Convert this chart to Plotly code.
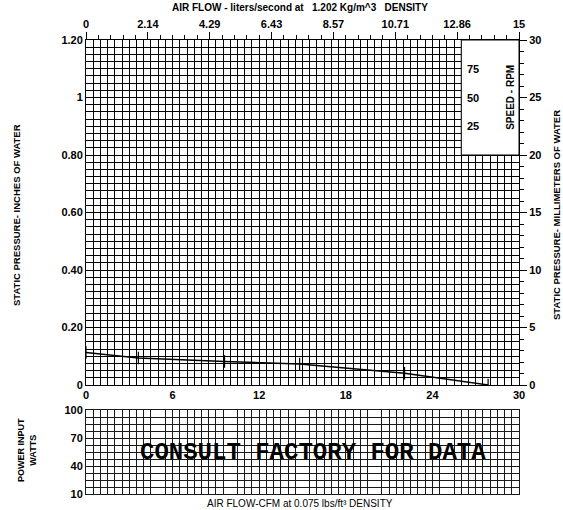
import plotly.graph_objects as go

# ---- data ----
cfm = [0, 3.63, 9.6, 14.8, 22.07, 27.86]
static_in = [0.113, 0.094, 0.082, 0.073, 0.041, 0.0]

x_ticks_cfm = [0, 6, 12, 18, 24, 30]
y_ticks_in = [0, 0.2, 0.4, 0.6, 0.8, 1.0, 1.2]
y_ticktext_in = ["0", "0.20", "0.40", "0.60", "0.80", "1", "1.20"]
top_ticks_ls = [0, 15/7, 30/7, 45/7, 60/7, 75/7, 90/7, 15]
top_ticktext_ls = ["0", "2.14", "4.29", "6.43", "8.57", "10.71", "12.86", "15"]
right_ticks_mm = [0, 5, 10, 15, 20, 25, 30]
power_ticks = [10, 40, 70, 100]
speed_labels = ["75", "50", "25"]
speed_y = [1.1, 1.0, 0.9]

FONT = "Liberation Sans, Arial, sans-serif"
BLACK = "#000000"
GW = 1.25
W, H = 563, 510
# plot area in page pixels: x 86..519, y 40..494
ML, MT = 86, 40
MR = W - 519
MB = H - 494
PW = W - ML - MR
PH = H - MT - MB


def py(pix):
    return (H - MB - pix) / PH


def px(pix):
    return (pix - ML) / PW


tickfont = dict(family=FONT, size=11, color=BLACK, weight="bold")

fig = go.Figure()
fig.add_trace(go.Scatter(
    x=cfm, y=static_in, mode="lines+markers",
    line=dict(color=BLACK, width=1.4),
    marker=dict(symbol="line-ns", size=9, line=dict(color=BLACK, width=1.2)),
    xaxis="x", yaxis="y", showlegend=False, hoverinfo="skip"))
fig.add_trace(go.Scatter(x=[0, 15], y=[0, 30], mode="markers", marker=dict(opacity=0),
                         xaxis="x2", yaxis="y2", showlegend=False, hoverinfo="skip"))
fig.add_trace(go.Scatter(x=[0, 30], y=[10, 100], mode="markers", marker=dict(opacity=0),
                         xaxis="x3", yaxis="y3", showlegend=False, hoverinfo="skip"))

main_dom = [py(385), 1.0]
bot_dom = [0.0, py(410)]

fig.update_layout(
    width=W, height=H,
    margin=dict(l=ML, r=MR, t=MT, b=MB, autoexpand=False),
    plot_bgcolor="white", paper_bgcolor="white",
    xaxis=dict(domain=[0, 1], range=[0, 30], anchor="y", automargin=False,
               tickvals=x_ticks_cfm, ticks="", tickfont=tickfont,
               showgrid=True, gridcolor=BLACK, gridwidth=GW,
               minor=dict(dtick=0.5, tick0=0, showgrid=True, gridcolor=BLACK, gridwidth=GW),
               showline=True, linecolor=BLACK, linewidth=1, zeroline=False),
    yaxis=dict(domain=main_dom, range=[0, 1.2], anchor="x", automargin=False,
               tickvals=y_ticks_in, ticktext=y_ticktext_in, ticks="", tickfont=tickfont,
               showgrid=True, gridcolor=BLACK, gridwidth=GW,
               minor=dict(dtick=0.025, tick0=0, showgrid=True, gridcolor=BLACK, gridwidth=GW),
               showline=True, linecolor=BLACK, linewidth=1, zeroline=False),
    xaxis2=dict(overlaying="x", side="top", anchor="y", range=[0, 15], automargin=False,
                tickvals=top_ticks_ls, ticktext=top_ticktext_ls, tickfont=tickfont,
                ticks="outside", ticklen=7, tickcolor=BLACK, tickwidth=1,
                minor=dict(dtick=15/35, tick0=0, ticks="outside", ticklen=4, tickcolor=BLACK),
                showgrid=False, showline=True, linecolor=BLACK, zeroline=False),
    yaxis2=dict(overlaying="y", side="right", anchor="x", range=[0, 30], automargin=False,
                tickvals=right_ticks_mm, tickfont=tickfont,
                ticks="outside", ticklen=7, tickcolor=BLACK, tickwidth=1,
                minor=dict(dtick=1, tick0=0, ticks="outside", ticklen=4, tickcolor=BLACK),
                showgrid=False, showline=True, linecolor=BLACK, zeroline=False),
    xaxis3=dict(domain=[0, 1], range=[0, 30], anchor="y3", showticklabels=False, ticks="",
                showgrid=False, automargin=False,
                minor=dict(dtick=0.5, tick0=0, showgrid=True, gridcolor="#1a1a1a", gridwidth=GW),
                showline=True, linecolor="#1a1a1a", mirror=True, zeroline=False),
    yaxis3=dict(domain=bot_dom, range=[10, 100], anchor="x3", automargin=False,
                tickvals=power_ticks, ticks="", tickfont=tickfont,
                showgrid=False,
                minor=dict(dtick=7.5, tick0=10, showgrid=True, gridcolor="#1a1a1a", gridwidth=GW),
                showline=True, linecolor="#1a1a1a", mirror=True, zeroline=False),
)

# white "speed" box in the upper right of the main chart
fig.add_shape(type="rect", xref="x", yref="y", x0=26, x1=30, y0=0.8, y1=1.2,
              fillcolor="white", line=dict(color=BLACK, width=1), layer="above")

C = dict(xanchor="center", yanchor="middle", showarrow=False)

for lab, yv in zip(speed_labels, speed_y):
    fig.add_annotation(x=26.8, y=yv, xref="x", yref="y", text=lab, **C,
                       font=dict(family=FONT, size=11, color=BLACK, weight="bold"))
fig.add_annotation(x=29.4, y=1.0, xref="x", yref="y", text="SPEED - RPM", **C,
                   textangle=-90, font=dict(family=FONT, size=10, color=BLACK, weight="bold"))

ann_font = dict(family=FONT, size=9.5, color=BLACK, weight="bold")
fig.add_annotation(x=px(300), y=py(8), xref="paper", yref="paper", **C,
                   text="AIR FLOW - liters/second at   1.202 Kg/m^3   DENSITY",
                   font=dict(family=FONT, size=10, color=BLACK, weight="bold"))
fig.add_annotation(x=px(16), y=py(215), xref="paper", yref="paper", **C,
                   text="STATIC PRESSURE- INCHES OF WATER", textangle=-90, font=ann_font)
fig.add_annotation(x=px(556), y=py(215), xref="paper", yref="paper", **C,
                   text="STATIC PRESSURE- MILLIMETERS OF WATER", textangle=-90, font=ann_font)
fig.add_annotation(x=px(27), y=py(450), xref="paper", yref="paper", **C,
                   text="POWER INPUT<br>WATTS", textangle=-90,
                   font=dict(family=FONT, size=9, color=BLACK, weight="bold"))
fig.add_annotation(x=px(300), y=py(503), xref="paper", yref="paper", **C,
                   text="AIR FLOW-CFM at 0.075 lbs/ft³ DENSITY",
                   font=dict(family=FONT, size=10, color=BLACK))
fig.add_annotation(x=px(313), y=py(452), xref="paper", yref="paper", **C,
                   text="CONSULT FACTORY FOR DATA",
                   font=dict(family="Liberation Mono, Courier New, monospace", size=24,
                             color=BLACK, weight="bold"))

fig.write_html("out.html", config={"displayModeBar": False},
               post_script="document.body.style.margin='0';document.body.style.overflow='hidden';")
